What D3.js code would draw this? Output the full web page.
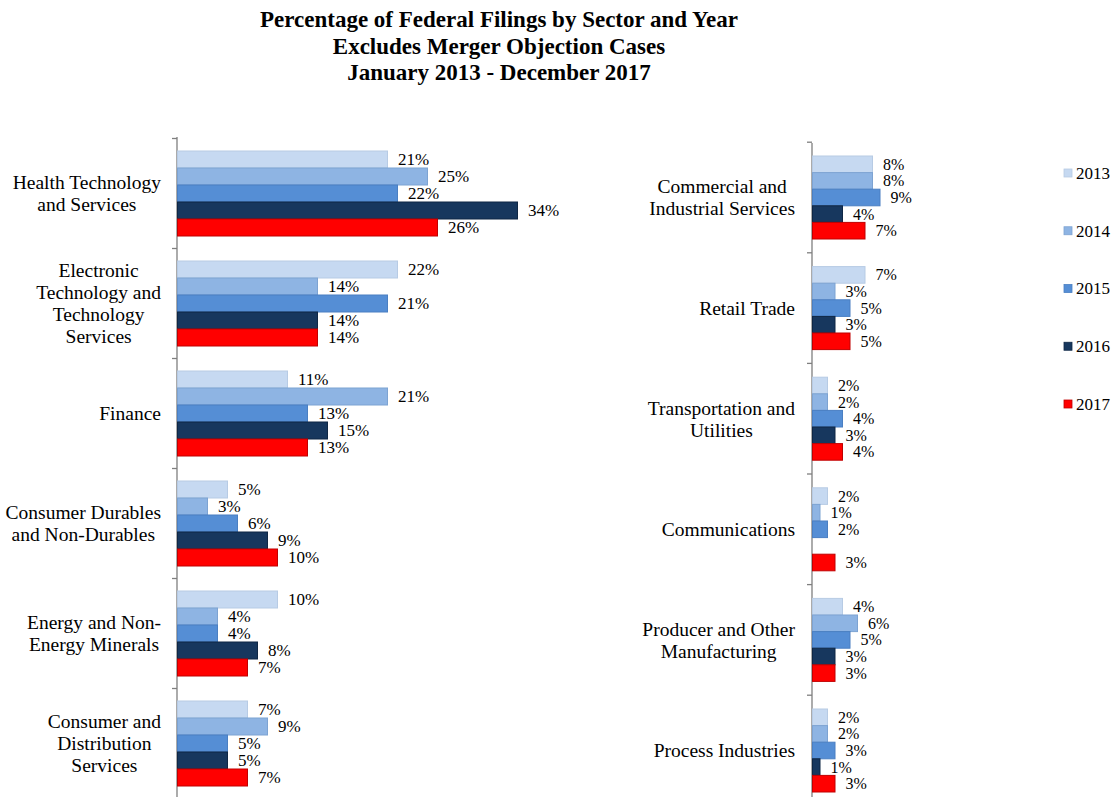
<!DOCTYPE html>
<html>
<head>
<meta charset="utf-8">
<script src="https://cdn.jsdelivr.net/npm/d3@7"></script>
<style>
  html, body { margin: 0; padding: 0; background: #ffffff; }
  svg text { font-family: "Liberation Serif", "Times New Roman", Times, "DejaVu Serif", serif; }
</style>
</head>
<body>
<svg id="chart" width="1113" height="797"></svg>
<script>
// ---- Data ----
const years = ["2013", "2014", "2015", "2016", "2017"];
const leftSectors = [
  "Health Technology\nand Services",
  "Electronic\nTechnology and\nTechnology\nServices",
  "Finance",
  "Consumer Durables\nand Non-Durables",
  "Energy and Non-\nEnergy Minerals",
  "Consumer and\nDistribution\nServices"
];
const rightSectors = [
  "Commercial and\nIndustrial Services",
  "Retail Trade",
  "Transportation and\nUtilities",
  "Communications",
  "Producer and Other\nManufacturing",
  "Process Industries"
];
// values per sector: [2013, 2014, 2015, 2016, 2017] in percent
const leftValues = [
  [21, 25, 22, 34, 26],
  [22, 14, 21, 14, 14],
  [11, 21, 13, 15, 13],
  [5, 3, 6, 9, 10],
  [10, 4, 4, 8, 7],
  [7, 9, 5, 5, 7]
];
const rightValues = [
  [8, 8, 9, 4, 7],
  [7, 3, 5, 3, 5],
  [2, 2, 4, 3, 4],
  [2, 1, 2, null, 3],
  [4, 6, 5, 3, 3],
  [2, 2, 3, 1, 3]
];
const titleLines = [
  "Percentage of Federal Filings by Sector and Year",
  "Excludes Merger Objection Cases",
  "January 2013 - December 2017"
];

const fillColors = ["#c6d9f1", "#8eb4e3", "#558ed5", "#17375e", "#ff0000"];
const strokeColors = ["#b7cbe4", "#7da3d2", "#4a7fc2", "#0f2745", "#c00000"];
const FONT = '"Liberation Serif", "Times New Roman", Times, "DejaVu Serif", serif';

const svg = d3.select("#chart");

// ---- Title ----
svg.append("g").selectAll("text")
  .data(titleLines)
  .join("text")
  .attr("x", 499)
  .attr("y", (d, i) => 27 + i * 26.5)
  .attr("text-anchor", "middle")
  .attr("font-family", FONT)
  .style("font-size", "23px")
  .style("font-weight", "bold")
  .attr("fill", "#000")
  .text(d => d);

function drawPanel(cfg) {
  const g = svg.append("g");
  const y = d3.scaleBand().domain(cfg.sectors).range([cfg.top, cfg.top + cfg.step * cfg.sectors.length]).padding(0);
  const inner = d3.scaleBand().domain(years).range([cfg.innerPad, y.bandwidth() - cfg.innerPad]).padding(0);
  const x = d3.scaleLinear().domain([0, cfg.maxVal]).range([cfg.axisX, cfg.axisX + cfg.pxPer * cfg.maxVal]);

  const ag = g.append("g").attr("transform", `translate(${cfg.axisX},0)`);
  const boundaries = d3.range(cfg.sectors.length + 1).map(i => cfg.top + i * cfg.step);
  ag.append("line").attr("x1", 0).attr("x2", 0).attr("y1", cfg.axisTop).attr("y2", 797)
    .attr("stroke", "#7f7f7f").attr("stroke-width", 1.3);
  ag.selectAll("line.tk").data(boundaries.filter(b => b >= cfg.axisTop - 1 && b <= 797)).join("line")
    .attr("class", "tk").attr("x1", -5).attr("x2", 0).attr("y1", d => d).attr("y2", d => d)
    .attr("stroke", "#7f7f7f").attr("stroke-width", 1.3);

  cfg.sectors.forEach((sec, si) => {
    const vals = cfg.values[si];
    const bg = g.append("g").attr("transform", `translate(0,${y(sec)})`);
    const items = years.map((yr, yi) => ({ yr, yi, v: vals[yi] })).filter(d => d.v !== null);
    bg.selectAll("rect").data(items).join("rect")
      .attr("x", cfg.axisX + 0.5)
      .attr("y", d => inner(d.yr))
      .attr("width", d => x(d.v) - cfg.axisX)
      .attr("height", inner.bandwidth())
      .attr("fill", d => fillColors[d.yi])
      .attr("stroke", d => strokeColors[d.yi])
      .attr("stroke-width", 1);
    bg.selectAll("text").data(items).join("text")
      .attr("x", d => x(d.v) + cfg.labelGap)
      .attr("y", d => inner(d.yr) + inner.bandwidth() / 2)
      .attr("dy", "0.35em")
      .attr("font-family", FONT)
      .style("font-size", cfg.labelSize + "px")
      .attr("fill", "#000")
      .text(d => d.v + "%");

    const lines = sec.split("\n");
    const lh = cfg.lineHeight;
    const cy = y(sec) + y.bandwidth() / 2;
    const tg = g.append("g");
    const texts = tg.selectAll("text").data(lines).join("text")
      .attr("y", (d, i) => cy + (i - (lines.length - 1) / 2) * lh)
      .attr("dy", "0.35em")
      .attr("text-anchor", "middle")
      .attr("font-family", FONT)
      .style("font-size", cfg.catSize + "px")
      .attr("fill", "#000")
      .text(d => d);
    let maxW = 0;
    texts.each(function () { maxW = Math.max(maxW, this.getComputedTextLength()); });
    texts.attr("x", cfg.catRight - maxW / 2);
  });
}

drawPanel({
  sectors: leftSectors, values: leftValues,
  top: 138.5, step: 110, innerPad: 12.5, axisX: 177, axisTop: 137,
  maxVal: 35, pxPer: 10, labelGap: 11, labelSize: 17,
  catRight: 161, catSize: 19.5, lineHeight: 22
});
drawPanel({
  sectors: rightSectors, values: rightValues,
  top: 142.2, step: 110.6, innerPad: 13.8, axisX: 812, axisTop: 143,
  maxVal: 10, pxPer: 7.5, labelGap: 11, labelSize: 16,
  catRight: 795, catSize: 19.5, lineHeight: 22
});

// ---- Legend ----
const lg = svg.append("g");
const legendY = d3.scalePoint().domain(years).range([173, 404]);
years.forEach((yr, i) => {
  lg.append("rect").attr("x", 1064).attr("y", legendY(yr) - 4).attr("width", 8).attr("height", 8)
    .attr("fill", fillColors[i]).attr("stroke", strokeColors[i]).attr("stroke-width", 0.8);
  lg.append("text").attr("x", 1076).attr("y", legendY(yr)).attr("dy", "0.35em")
    .attr("font-family", FONT)
    .style("font-size", "17px").attr("fill", "#000").text(yr);
});
</script>
</body>
</html>
